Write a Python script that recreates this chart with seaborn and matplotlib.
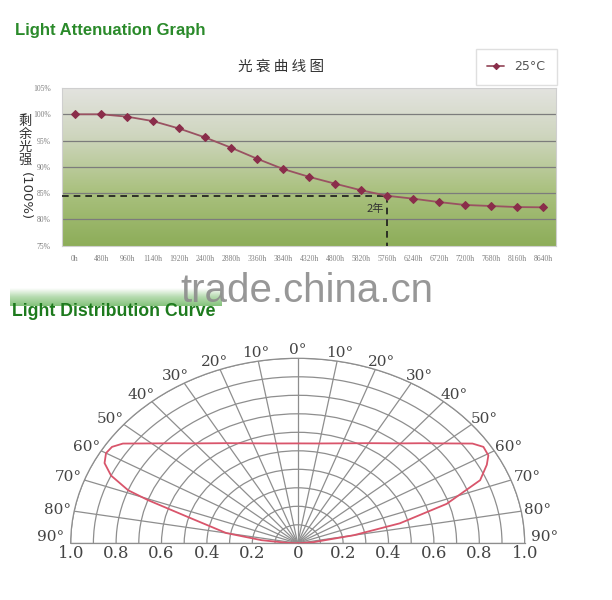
import numpy as np
import pandas as pd
import matplotlib
matplotlib.use("Agg")
import matplotlib.pyplot as plt
from matplotlib.colors import LinearSegmentedColormap
import seaborn as sns

# ---------------- data ----------------
hours = ["0h", "480h", "960h", "1140h", "1920h", "2400h", "2880h", "3360h", "3840h",
         "4320h", "4800h", "5820h", "5760h", "6240h", "6720h", "7200h", "7680h",
         "8160h", "8640h"]
remaining = [100.0, 100.0, 99.55, 98.7, 97.3, 95.6, 93.65, 91.55, 89.6,
             88.1, 86.8, 85.55, 84.5, 83.95, 83.3, 82.75, 82.55, 82.35, 82.3]
series_name = "25°C"
threshold_value = 84.5
threshold_hour = "5760h"
threshold_text = "2年"
y_ticks = [75, 80, 85, 90, 95, 100, 105]

# light distribution (angle in degrees, relative intensity)
dist_angle = [-90, -86.5, -84, -80, -73.5, -70.5, -69, -66, -63, -60, -57.5, -55,
              -50, -45, -40, -30, -20, -10, 0, 10, 20, 30, 40, 45, 50, 55, 57.5,
              60.5, 63, 67, 72, 76.5, 80, 85, 90]
dist_value = [0.0, 0.05, 0.16, 0.32, 0.51, 0.70, 0.80, 0.90, 0.955, 0.975, 0.97, 0.94,
              0.84, 0.765, 0.705, 0.625, 0.575, 0.548, 0.54, 0.548, 0.575, 0.625, 0.705,
              0.765, 0.84, 0.94, 0.97, 0.965, 0.935, 0.873, 0.69, 0.463, 0.25, 0.07, 0.0]
angle_ticks = list(range(-90, 91, 10))
radius_labels = ["1.0", "0.8", "0.6", "0.4", "0.2", "0", "0.2", "0.4", "0.6", "0.8", "1.0"]
radius_label_pos = [-1.0, -0.8, -0.6, -0.4, -0.2, 0, 0.2, 0.4, 0.6, 0.8, 1.0]

sns.set_style("white")
plt.rcParams["font.family"] = ["DejaVu Sans", "Noto Sans CJK SC"]

W, H = 612, 600
fig = plt.figure(figsize=(W / 100, H / 100), dpi=100)
fig.patch.set_facecolor("white")


def fx(px):
    return px / W


def fy(py):
    return 1 - py / H


# ---------------- headings / watermark ----------------
fig.text(fx(15), fy(31), "Light Attenuation Graph", fontsize=12, fontweight="bold",
         color="#2a8a2a", family="Liberation Sans", va="center", ha="left")
fig.text(fx(12), fy(312), "Light Distribution Curve", fontsize=12.8, fontweight="bold",
         color="#1d7a1d", family="Liberation Sans", va="center", ha="left")
band = fig.add_axes([fx(10), fy(306), fx(212), 18 / H])
bcm = LinearSegmentedColormap.from_list("band", ["#ffffff", "#a8d4a0", "#6fb865"])
band.imshow(np.linspace(0, 1, 50).reshape(-1, 1), aspect="auto", cmap=bcm, alpha=0.85)
band.axis("off")

# ---------------- attenuation chart ----------------
ax1 = fig.add_axes([fx(62), fy(245.7), fx(556) - fx(62), (245.7 - 88) / H])
grad_cmap = LinearSegmentedColormap.from_list(
    "bg", [(0, "#8dad59"), (0.35, "#aac17f"), (0.7, "#cfd6bf"), (1, "#e3e3df")])
ax1.imshow(np.linspace(0, 1, 256).reshape(-1, 1), extent=(0, 1, 0, 1), origin="lower",
           aspect="auto", cmap=grad_cmap, transform=ax1.transAxes, zorder=0)

df = pd.DataFrame({"hour": hours, "value": remaining})
sns.lineplot(data=df, x="hour", y="value", ax=ax1, sort=False, color="#9a5262",
             lw=1.3, marker="D", markersize=4, markerfacecolor="#8a2d4a",
             markeredgecolor="#8a2d4a", label=series_name, zorder=5)

ax1.set_xlim(-0.5, len(hours) - 0.5)
ax1.set_ylim(y_ticks[0], y_ticks[-1])
ax1.set_yticks(y_ticks)
ax1.set_yticklabels([f"{v}%" for v in y_ticks])
ax1.set_xlabel("")
ax1.set_ylabel("")
for v in y_ticks[1:-1]:
    ax1.axhline(v, color="#7c7c7c", lw=0.9, zorder=2)
ax1.tick_params(axis="both", length=0, labelsize=5.5, labelcolor="#808080")
ax1.tick_params(axis="x", pad=7)
ax1.tick_params(axis="y", pad=8)
for lab in ax1.get_xticklabels() + ax1.get_yticklabels():
    lab.set_family("Liberation Serif")
ax1.set_xticks(np.arange(-0.5, len(hours), 1), minor=True)
ax1.tick_params(axis="x", which="minor", direction="in", length=3, color="#5c7a35", width=0.8)
for s in ax1.spines.values():
    s.set_color("#cfcfcf")
    s.set_linewidth(0.8)

xi = hours.index(threshold_hour)
ax1.plot([-0.5, xi], [threshold_value, threshold_value], ls=(0, (4, 3)), color="#1a1a1a",
         lw=1.2, zorder=4)
ax1.plot([xi, xi], [threshold_value, y_ticks[0]], ls=(0, (4, 3)), color="#1a1a1a",
         lw=1.2, zorder=4)
ax1.text(xi - 0.45, threshold_value - 2.4, threshold_text, fontsize=8, color="#333333",
         family=["Noto Sans CJK SC"], ha="center", va="center", zorder=6)

leg = ax1.legend(loc="center", bbox_to_anchor=(fx(516), fy(67)), bbox_transform=fig.transFigure,
                 frameon=True, fancybox=False, edgecolor="#d8d8d8", fontsize=9,
                 handlelength=1.4, borderpad=0.9, handletextpad=0.8, markerscale=0.8)
for t in leg.get_texts():
    t.set_color("#555555")

fig.text(fx(281), fy(67), "光 衰 曲 线 图", fontsize=10.5, color="#333333",
         family=["Noto Sans CJK SC"], ha="center", va="center")
for ch, py in zip("剩余光强", [121, 134, 147, 160]):
    fig.text(fx(25), fy(py), ch, fontsize=9.5, color="#333333",
             family=["Noto Sans CJK SC"], ha="center", va="center")
fig.text(fx(25), fy(196), "(100%)", fontsize=9.5, color="#333333", rotation=270,
         family=["DejaVu Sans"], ha="center", va="center")

# ---------------- light distribution (polar) ----------------
cx, cy, rx, ry = 297.7, 543.3, 227, 185
ax2 = fig.add_axes([fx(cx - rx), fy(cy + ry / 2), 2 * rx / W, 2 * ry / H], projection="polar")
ax2.set_theta_zero_location("N")
ax2.set_theta_direction(-1)
ax2.set_thetamin(-90)
ax2.set_thetamax(90)
ax2.set_aspect("auto")
ax2.set_rlim(0, 1)
ax2.set_rgrids(np.arange(0.1, 1.01, 0.1), labels=[""] * 10)
ax2.set_thetagrids(angle_ticks, labels=[""] * len(angle_ticks))
ax2.grid(True, color="#8e8e8e", lw=0.9)
for s in ax2.spines.values():
    s.set_color("#8e8e8e")
    s.set_linewidth(0.9)
ax2.set_facecolor("white")

sns.lineplot(x=np.deg2rad(dist_angle), y=dist_value, ax=ax2, sort=False,
             color="#d9556b", lw=1.3, zorder=5)
ax2.set_xlabel("")
ax2.set_ylabel("")

# angle labels just outside the outer arc
for a in angle_ticks:
    t = np.deg2rad(a)
    if abs(a) == 90:
        off = (-20 if a < 0 else 20, 6)
    else:
        off = (17 * np.sin(t), 8 * np.cos(t))
    ax2.annotate(f"{abs(a)}°", xy=(t, 1.0), xytext=off, textcoords="offset pixels",
                 ha="center", va="center", fontsize=11, color="#444444",
                 family="DejaVu Serif", annotation_clip=False)

for txt, pos in zip(radius_labels, radius_label_pos):
    ang = np.deg2rad(90 if pos >= 0 else -90)
    ax2.annotate(txt, xy=(ang, abs(pos)), xytext=(0, -1), textcoords="offset points",
                 ha="center", va="top", fontsize=12, color="#444444",
                 family="DejaVu Serif", annotation_clip=False)

fig.text(fx(307), fy(302), "trade.china.cn", fontsize=29, color="#8c8c8c",
         family="Liberation Sans", ha="center", va="baseline", alpha=0.9, zorder=10)

fig.savefig("out.png", dpi=100)
